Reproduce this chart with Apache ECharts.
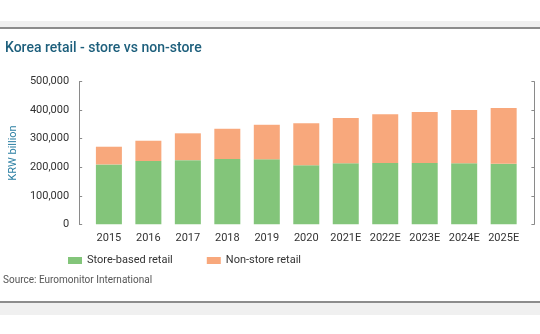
<!DOCTYPE html>
<html>
<head>
<meta charset="utf-8">
<script src="https://cdn.jsdelivr.net/npm/echarts@6/dist/echarts.min.js"></script>
<style>
  html, body { margin: 0; padding: 0; background: #fff; }
  #chart { width: 540px; height: 334px; }
</style>
</head>
<body>
<div id="chart"></div>
<script>
// Korea retail sales, KRW billion (E = estimate)
const years = ['2015', '2016', '2017', '2018', '2019', '2020', '2021E', '2022E', '2023E', '2024E', '2025E'];
const storeBased = [210000, 222000, 225000, 229000, 228000, 207000, 214000, 215000, 215000, 214000, 212000];
const nonStore = [62000, 71000, 94000, 106000, 121000, 147000, 159000, 171000, 179000, 187000, 196000];
const yTicks = [0, 100000, 200000, 300000, 400000, 500000];

const FONT = 'Roboto';
const axisGray = '#8a8a8a';

const chart = echarts.init(document.getElementById('chart'), null, { renderer: 'canvas' });

const yCommon = {
  type: 'value',
  min: yTicks[0],
  max: yTicks[yTicks.length - 1],
  interval: yTicks[1] - yTicks[0],
  splitLine: { show: false },
  axisLine: { show: true, lineStyle: { color: axisGray, width: 1 } },
  axisTick: { show: true, inside: true, length: 3, lineStyle: { color: axisGray } }
};

chart.setOption({
  backgroundColor: '#ffffff',
  animation: false,
  textStyle: { fontFamily: FONT },
  graphic: [
    { type: 'rect', shape: { x: 0, y: 21, width: 540, height: 6 }, style: { fill: '#f0f0f0' } },
    { type: 'rect', shape: { x: 0, y: 27, width: 540, height: 2 }, style: { fill: '#8c8c8c' } },
    { type: 'rect', shape: { x: 0, y: 301, width: 540, height: 2 }, style: { fill: '#8c8c8c' } },
    { type: 'rect', shape: { x: 0, y: 303, width: 540, height: 12 }, style: { fill: '#f0f0f0' } },
    {
      type: 'text', left: 5, top: 41,
      style: { text: 'Korea retail - store vs non-store', fill: '#1d5f7c', font: '500 14px Roboto' }
    },
    {
      type: 'text', left: 3, top: 275,
      style: { text: 'Source: Euromonitor International', fill: '#555555', font: '10px Roboto' }
    }
  ],
  legend: {
    left: 63, top: 250,
    itemWidth: 14, itemHeight: 7, itemGap: 34,
    icon: 'rect',
    textStyle: { fontFamily: FONT, fontSize: 11, color: '#333' },
    data: ['Store-based retail', 'Non-store retail']
  },
  grid: { left: 75, right: 16.6, top: 81.7, bottom: 334 - 224.3 },
  xAxis: {
    type: 'category',
    data: years,
    axisLine: { show: false },
    axisTick: { show: false },
    axisLabel: { color: '#333', fontSize: 11, fontFamily: FONT, margin: 8, interval: 0 }
  },
  yAxis: [
    Object.assign({}, yCommon, {
      position: 'left', offset: 10,
      name: 'KRW billion', nameLocation: 'middle', nameGap: 55,
      nameTextStyle: { color: '#2b7fa3', fontSize: 11, fontFamily: FONT },
      axisLabel: {
        color: '#333', fontSize: 11, fontFamily: FONT, margin: 10,
        formatter: v => v.toLocaleString('en-US')
      }
    }),
    Object.assign({}, yCommon, {
      position: 'right', offset: 11,
      axisLabel: { show: false }
    })
  ],
  series: [
    {
      name: 'Store-based retail', type: 'bar', stack: 'total', barWidth: 26,
      itemStyle: { color: '#83c57a' }, data: storeBased
    },
    {
      name: 'Non-store retail', type: 'bar', stack: 'total', barWidth: 26,
      itemStyle: { color: '#f8a87c' }, data: nonStore
    }
  ]
});
</script>
</body>
</html>
